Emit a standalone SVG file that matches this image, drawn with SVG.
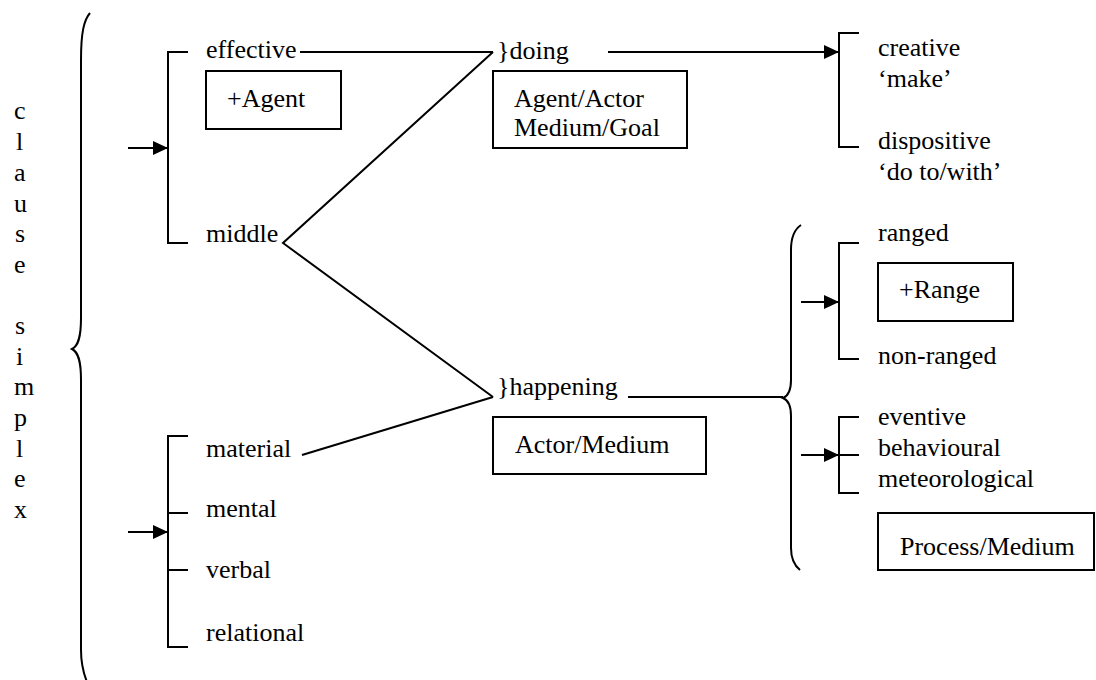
<svg xmlns="http://www.w3.org/2000/svg" width="1096" height="680" viewBox="0 0 1096 680" font-family="'Liberation Serif', 'Times New Roman', Times, serif" font-size="26">
  <defs>
    <marker id="arrow" markerUnits="userSpaceOnUse" markerWidth="16" markerHeight="16" refX="15" refY="7" orient="auto">
      <path d="M0,0 L15,7 L0,14 Z" fill="#000"/>
    </marker>
    <style>
      text { font-family: 'Liberation Serif', 'Times New Roman', Times, serif; font-size: 26px; fill: #000; }
      .ln { stroke: #000; stroke-width: 2; fill: none; }
      .box { stroke: #000; stroke-width: 2; fill: #fff; }
    </style>
  </defs>
  <rect width="1096" height="680" fill="#fff"/>

  <!-- vertical label -->
  <g id="clause-simplex">
    <text x="14" y="119">c</text>
    <text x="16" y="150">l</text>
    <text x="14" y="181">a</text>
    <text x="14" y="212">u</text>
    <text x="15" y="242">s</text>
    <text x="14" y="273">e</text>
    <text x="15" y="334">s</text>
    <text x="16" y="365">i</text>
    <text x="14" y="395">m</text>
    <text x="14" y="426">p</text>
    <text x="16" y="457">l</text>
    <text x="14" y="487">e</text>
    <text x="14" y="518">x</text>
  </g>

  <!-- braces -->
  <g id="braces">
    <path class="ln" d="M90,13 C84,20 81,32 81,60 L81,318 C81,338 78,346 72,349 C78,352 81,360 81,380 L81,650 C81,664 83,672 87,682"/>
    <path class="ln" d="M801,225 C795,229 791,236 791,250 L791,380 C791,390 788,396 783,398 C788,400 791,406 791,416 L791,548 C791,560 795,566 800,570"/>
  </g>

  <!-- system brackets -->
  <g id="brackets">
    <path class="ln" d="M188,52 L168,52 L168,243 L188,243"/>
    <path class="ln" d="M188,436 L168,436 L168,647 L188,647 M168,513 L188,513 M168,570 L188,570"/>
    <path class="ln" d="M859,33 L839,33 L839,147 L859,147"/>
    <path class="ln" d="M859,243 L839,243 L839,359 L859,359"/>
    <path class="ln" d="M859,417 L839,417 L839,493 L859,493 M839,455 L859,455"/>
  </g>

  <!-- connectors -->
  <g id="connectors">
    <line class="ln" x1="128" y1="148" x2="168" y2="148" marker-end="url(#arrow)"/>
    <line class="ln" x1="128" y1="532" x2="168" y2="532" marker-end="url(#arrow)"/>
    <line class="ln" x1="801" y1="302" x2="839" y2="302" marker-end="url(#arrow)"/>
    <line class="ln" x1="801" y1="455" x2="839" y2="455" marker-end="url(#arrow)"/>
    <line class="ln" x1="608" y1="52" x2="839" y2="52" marker-end="url(#arrow)"/>
    <line class="ln" x1="300" y1="52" x2="493" y2="52"/>
    <polyline class="ln" points="493,52 283,243 493,397"/>
    <line class="ln" x1="302" y1="455" x2="493" y2="397"/>
    <line class="ln" x1="628" y1="397" x2="783" y2="397"/>
  </g>

  <!-- left column -->
  <g id="effective"><text x="206" y="58">effective</text></g>
  <g id="agent-box">
    <rect class="box" x="206" y="71" width="135" height="58"/>
    <text x="227" y="107">+Agent</text>
  </g>
  <g id="middle"><text x="206" y="242">middle</text></g>
  <g id="material"><text x="206" y="457">material</text></g>
  <g id="mental"><text x="206" y="517">mental</text></g>
  <g id="verbal"><text x="206" y="578">verbal</text></g>
  <g id="relational"><text x="206" y="641">relational</text></g>

  <!-- middle column -->
  <g id="doing"><text x="497" y="59">}doing</text></g>
  <g id="agent-actor-box">
    <rect class="box" x="493" y="71" width="194" height="77"/>
    <text x="514" y="107">Agent/Actor</text>
    <text x="514" y="136">Medium/Goal</text>
  </g>
  <g id="happening"><text x="497" y="395">}happening</text></g>
  <g id="actor-medium-box">
    <rect class="box" x="493" y="417" width="213" height="57"/>
    <text x="515" y="453">Actor/Medium</text>
  </g>

  <!-- right column -->
  <g id="creative">
    <text x="878" y="56">creative</text>
    <text x="878" y="87">‘make’</text>
  </g>
  <g id="dispositive">
    <text x="878" y="149">dispositive</text>
    <text x="878" y="180">‘do to/with’</text>
  </g>
  <g id="ranged"><text x="878" y="241">ranged</text></g>
  <g id="range-box">
    <rect class="box" x="878" y="263" width="135" height="58"/>
    <text x="899" y="298">+Range</text>
  </g>
  <g id="non-ranged"><text x="878" y="364">non-ranged</text></g>
  <g id="eventive"><text x="878" y="425">eventive</text></g>
  <g id="behavioural"><text x="878" y="456">behavioural</text></g>
  <g id="meteorological"><text x="878" y="487">meteorological</text></g>
  <g id="process-medium-box">
    <rect class="box" x="878" y="513" width="216" height="57"/>
    <text x="900" y="555">Process/Medium</text>
  </g>
</svg>
